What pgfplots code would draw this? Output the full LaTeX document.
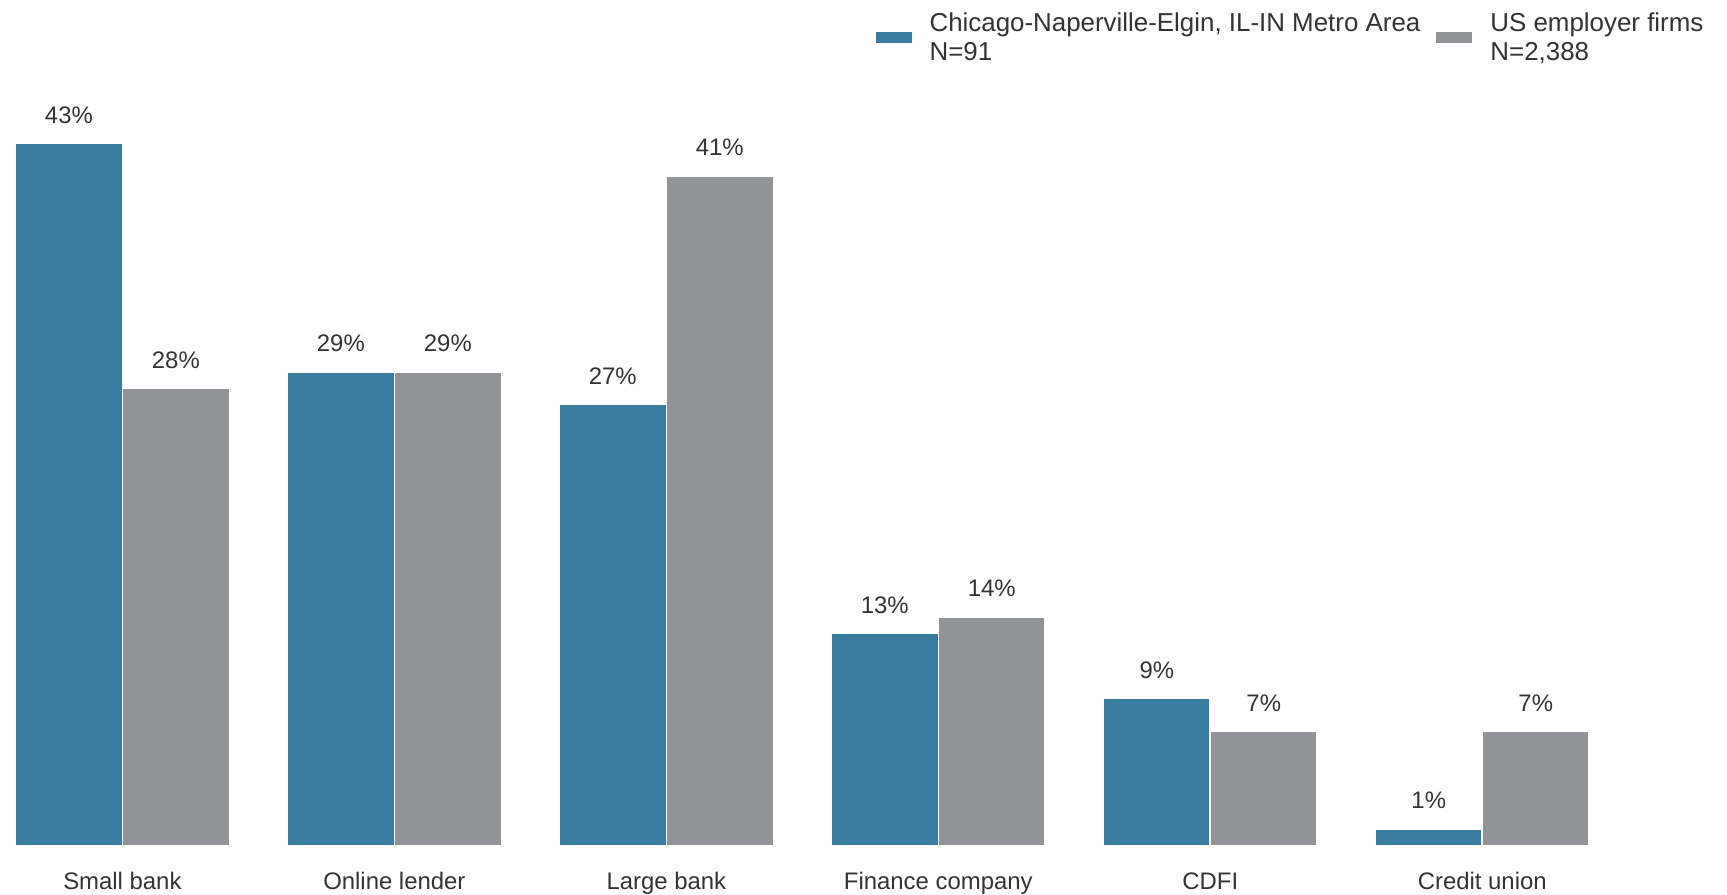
\documentclass[border=0pt]{standalone}
\usepackage{fontspec}
\setmainfont{Liberation Sans}
\usepackage{pgfplots}
\pgfplotsset{compat=1.18}
\definecolor{cblue}{HTML}{387CA0}
\definecolor{cgray}{HTML}{939497}
\definecolor{ctext}{HTML}{333333}

\begin{document}
\begin{tikzpicture}[font=\fontsize{12}{14}\selectfont, text=ctext]
\begin{axis}[
    x=136bp, y=8.165bp,
    xmin=-0.45, xmax=5.9,
    ymin=0, ymax=51.25,
    ybar=0pt,
    bar width=53.5bp,
    axis line style={draw=none},
    tick style={draw=none},
    ytick=\empty,
    xtick={0,...,5},
    xticklabels={Small bank, Online lender, Large bank, Finance company, CDFI, Credit union},
    xticklabel style={anchor=base, yshift=-18bp, inner sep=0pt, text=ctext},
    /pgf/number format/assume math mode=true,
    nodes near coords={\pgfmathprintnumber[fixed,precision=0]{\pgfplotspointmeta}\%},
    every node near coord/.append style={anchor=base, yshift=10bp, text=ctext, inner sep=0pt},
    clip=false,
    legend cell align=left,
    legend columns=2,
    legend image code/.code={\fill[#1, draw=none] (0bp,-2.75bp) rectangle (18bp,2.75bp); \path[draw=none, fill=none] (0bp,0bp) -- (25bp,0bp);},
    legend style={draw=none, fill=none, at={(0.507,1)}, anchor=north west,
        cells={align=left}, inner sep=0pt, outer sep=0pt,
        font=\fontsize{13}{14.5}\selectfont,
        /tikz/every even column/.append style={column sep=6bp},
        nodes={inner sep=2bp, text=ctext}},
]
\addplot[fill=cblue, draw=white, line width=0.8bp] coordinates {
(0,43) (1,29) (2,27) (3,13) (4,9) (5,1)
};
\addlegendentry{Chicago-Naperville-Elgin, IL-IN Metro Area\\N=91}
\addplot[fill=cgray, draw=white, line width=0.8bp] coordinates {
(0,28) (1,29) (2,41) (3,14) (4,7) (5,7)
};
\addlegendentry{US employer firms\\N=2,388}
\end{axis}
\end{tikzpicture}
\end{document}
